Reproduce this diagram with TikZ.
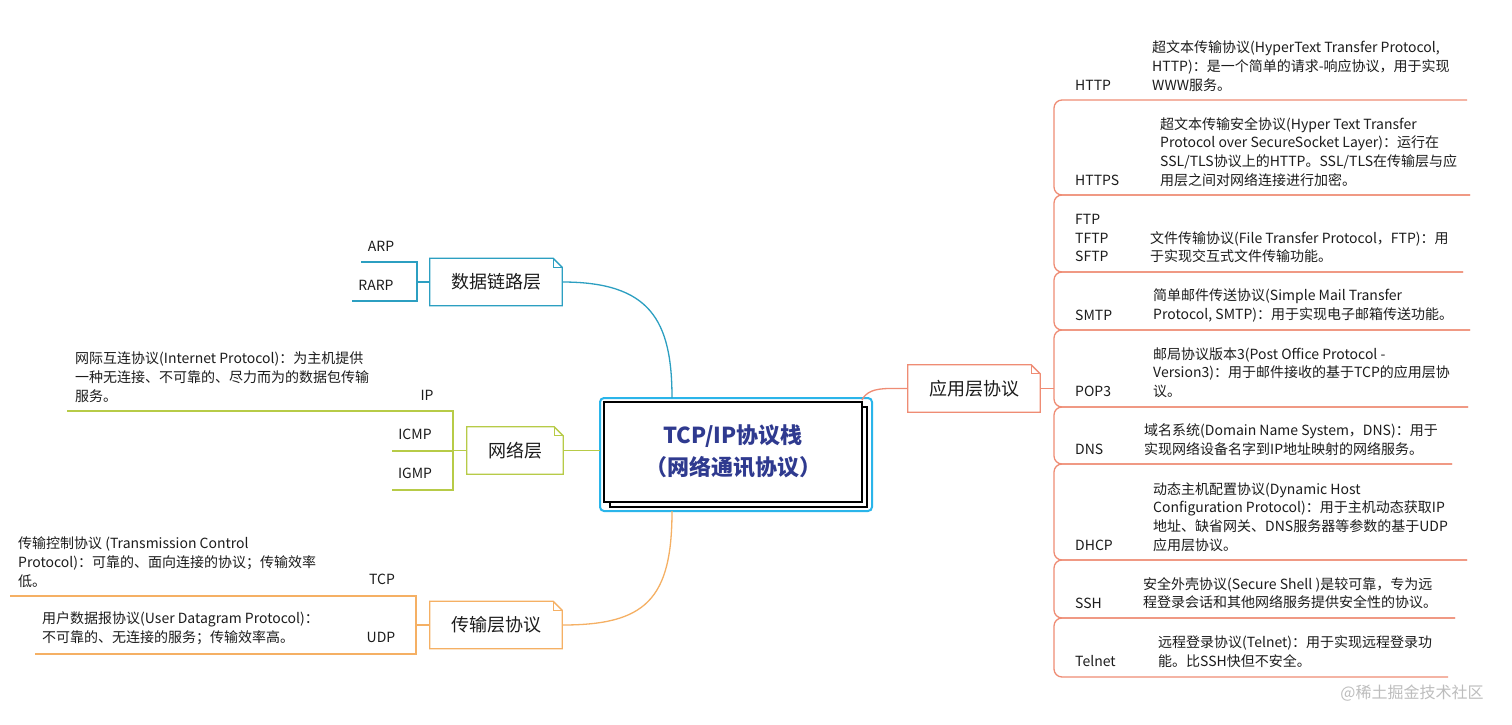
\documentclass[tikz,border=0pt]{standalone}
\usepackage{fontspec}
\setmainfont{Noto Sans CJK SC}
\usetikzlibrary{calc}
\definecolor{dlc}{HTML}{2C9FC1}
\definecolor{nlc}{HTML}{B7CB47}
\definecolor{tlc}{HTML}{F5B064}
\definecolor{alc}{HTML}{EF8C74}
\definecolor{cyanc}{HTML}{2AB5EA}
\definecolor{titleblue}{HTML}{2F3A8F}
\definecolor{ink}{HTML}{1C1C1C}
\definecolor{wm}{HTML}{BDBDBD}
\begin{document}
\begin{tikzpicture}[x=1pt,y=-1pt,
  txt/.style={inner sep=0, anchor=west, font=\fontsize{14}{18.7}\selectfont, text=ink, align=left},
  lbl/.style={inner sep=0, font=\fontsize{14}{18.7}\selectfont, text=ink},
  rlbl/.style={lbl, anchor=west, align=left},
  topic/.style={inner sep=0, minimum height=47, font=\fontsize{18}{22}\selectfont, text=ink},
  br/.style={line width=1.3}]
\useasboundingbox[fill=white] (0,0) rectangle (1512,724);

% ---------- centre ----------
\draw[cyanc, line width=2, rounded corners=4] (600,398) rectangle (872,511);
\draw[black, line width=2.8, fill=white] (610,407) rectangle (867,507);
\draw[black, line width=2.8, fill=white] (604,402) rectangle (862,502);
\node[inner sep=0, align=center, text=titleblue, font=\fontsize{22}{32}\selectfont\bfseries] (c) at (733,451) {TCP/IP协议栈\\（网络通讯协议）};
\coordinate (ctop) at (672,398);
\coordinate (cbot) at (672,511);
\coordinate (cleft) at (600,450.5);
\coordinate (cright) at (862,400);

% ---------- topic boxes ----------
\node[topic, minimum width=132] (dl) at (496,282) {数据链路层};
\node[topic, minimum width=96] (nl) at (515,450.5) {网络层};
\node[topic, minimum width=132] (tl) at (496,625) {传输层协议};
\node[topic, minimum width=132] (al) at (974,388.5) {应用层协议};

\foreach \n/\col in {dl/dlc, nl/nlc, tl/tlc, al/alc}{
  \draw[\col, br] (\n.north west) -- ($(\n.north east)+(-9,0)$) -- ($(\n.north east)+(0,9)$) -- (\n.south east) -- (\n.south west) -- cycle;
  \draw[\col, line width=0.9] ($(\n.north east)+(-9,0)$) -- ($(\n.north east)+(-9,9)$) -- ($(\n.north east)+(0,9)$);
}

% ---------- main connectors ----------
\draw[dlc, br] (dl.east) .. controls (650,282) and (672,320) .. (ctop);
\draw[nlc, br] (nl.east) -- (cleft);
\draw[tlc, br] (cbot) .. controls (672,600) and (645,625) .. (tl.east);
\draw[alc, br] (cright) .. controls (866,392) and (874,388.5) .. (890,388.5) -- (al.west);

% ---------- data link ----------
\coordinate (arpL) at (361,262);
\coordinate (rarpL) at (352,301);
\draw[dlc, br] (arpL) -- (417,262) |- (dl.west);
\draw[dlc, br] (rarpL) -- (417,301) |- (dl.west);
\node[lbl] (arp) at (381,246) {ARP};
\node[lbl] (rarp) at (376,285) {RARP};

% ---------- network ----------
\coordinate (ipL) at (67,411);
\coordinate (icmpL) at (392,451);
\coordinate (igmpL) at (392,490);
\draw[nlc, br] (ipL) -- (453,411) |- (nl.west);
\draw[nlc, br] (icmpL) -- (453,451) |- (nl.west);
\draw[nlc, br] (igmpL) -- (453,490) |- (nl.west);
\node[lbl] (ip) at (427,395) {IP};
\node[lbl] (icmp) at (415,434) {ICMP};
\node[lbl] (igmp) at (415,473) {IGMP};
\node[txt] (ipd) at (75,377) {网际互连协议(Internet Protocol)：为主机提供\\一种无连接、不可靠的、尽力而为的数据包传输\\服务。};

% ---------- transport ----------
\coordinate (tcpL) at (10,596);
\coordinate (udpL) at (35,654);
\draw[tlc, br] (tcpL) -- (416,596) |- (tl.west);
\draw[tlc, br] (udpL) -- (416,654) |- (tl.west);
\node[lbl] (tcp) at (382,579) {TCP};
\node[lbl] (udp) at (381,637) {UDP};
\node[txt] (tcpd) at (18,562) {传输控制协议 (Transmission Control\\Protocol)：可靠的、面向连接的协议；传输效率\\低。};
\node[txt] (udpd) at (42,628.5) {用户数据报协议(User Datagram Protocol)：\\不可靠的、无连接的服务；传输效率高。};

% ---------- application ----------
\coordinate (j) at (1054,388.5);
\draw[alc, br] (al.east) -- (j);
\coordinate (r0) at (1467,100);
\coordinate (r1) at (1470,195);
\coordinate (r2) at (1463,272);
\coordinate (r3) at (1470,330);
\coordinate (r4) at (1468,407);
\coordinate (r5) at (1452,464);
\coordinate (r6) at (1467,560);
\coordinate (r7) at (1455,618);
\coordinate (r8) at (1448,677);
\foreach \a/\b in {r0/r1, r1/r2, r2/r3, r3/r4, r4/r5, r5/r6, r6/r7, r7/r8}{
  \draw[alc, br, rounded corners=8] (\a) -- (j |- \a) -- (j |- \b) -- (\b);
}

\node[rlbl] (http) at (1075,85) {HTTP};
\node[rlbl] (https) at (1075,180) {HTTPS};
\node[rlbl] (ftp) at (1075,238) {FTP\\TFTP\\SFTP};
\node[rlbl] (smtp) at (1075,315) {SMTP};
\node[rlbl] (pop) at (1075,391) {POP3};
\node[rlbl] (dns) at (1075,449) {DNS};
\node[rlbl] (dhcp) at (1075,545) {DHCP};
\node[rlbl] (ssh) at (1075,603) {SSH};
\node[rlbl] (telnet) at (1075,661) {Telnet};

\node[txt] (httpd) at (1152,66) {超文本传输协议(HyperText Transfer Protocol,\\HTTP)：是一个简单的请求-响应协议，用于实现\\WWW服务。};
\node[txt] (httpsd) at (1160,152) {超文本传输安全协议(Hyper Text Transfer\\Protocol over SecureSocket Layer)：运行在\\SSL/TLS协议上的HTTP。SSL/TLS在传输层与应\\用层之间对网络连接进行加密。};
\node[txt] (ftpd) at (1150,247) {文件传输协议(File Transfer Protocol，FTP)：用\\于实现交互式文件传输功能。};
\node[txt] (smtpd) at (1153,305.5) {简单邮件传送协议(Simple Mail Transfer\\Protocol, SMTP)：用于实现电子邮箱传送功能。};
\node[txt] (popd) at (1153,372.5) {邮局协议版本3(Post Office Protocol -\\Version3)：用于邮件接收的基于TCP的应用层协\\议。};
\node[txt] (dnsd) at (1144,440) {域名系统(Domain Name System，DNS)：用于\\实现网络设备名字到IP地址映射的网络服务。};
\node[txt] (dhcpd) at (1153,517) {动态主机配置协议(Dynamic Host\\Configuration Protocol)：用于主机动态获取IP\\地址、缺省网关、DNS服务器等参数的基于UDP\\应用层协议。};
\node[txt] (sshd) at (1143,593) {安全外壳协议(Secure Shell )是较可靠，专为远\\程登录会话和其他网络服务提供安全性的协议。};
\node[txt] (telnetd) at (1158,651.5) {远程登录协议(Telnet)：用于实现远程登录功\\能。比SSH快但不安全。};

\node[inner sep=0, text=wm, font=\fontsize{16}{18}\selectfont] (wmk) at (1412,693) {@稀土掘金技术社区};
\end{tikzpicture}
\end{document}
